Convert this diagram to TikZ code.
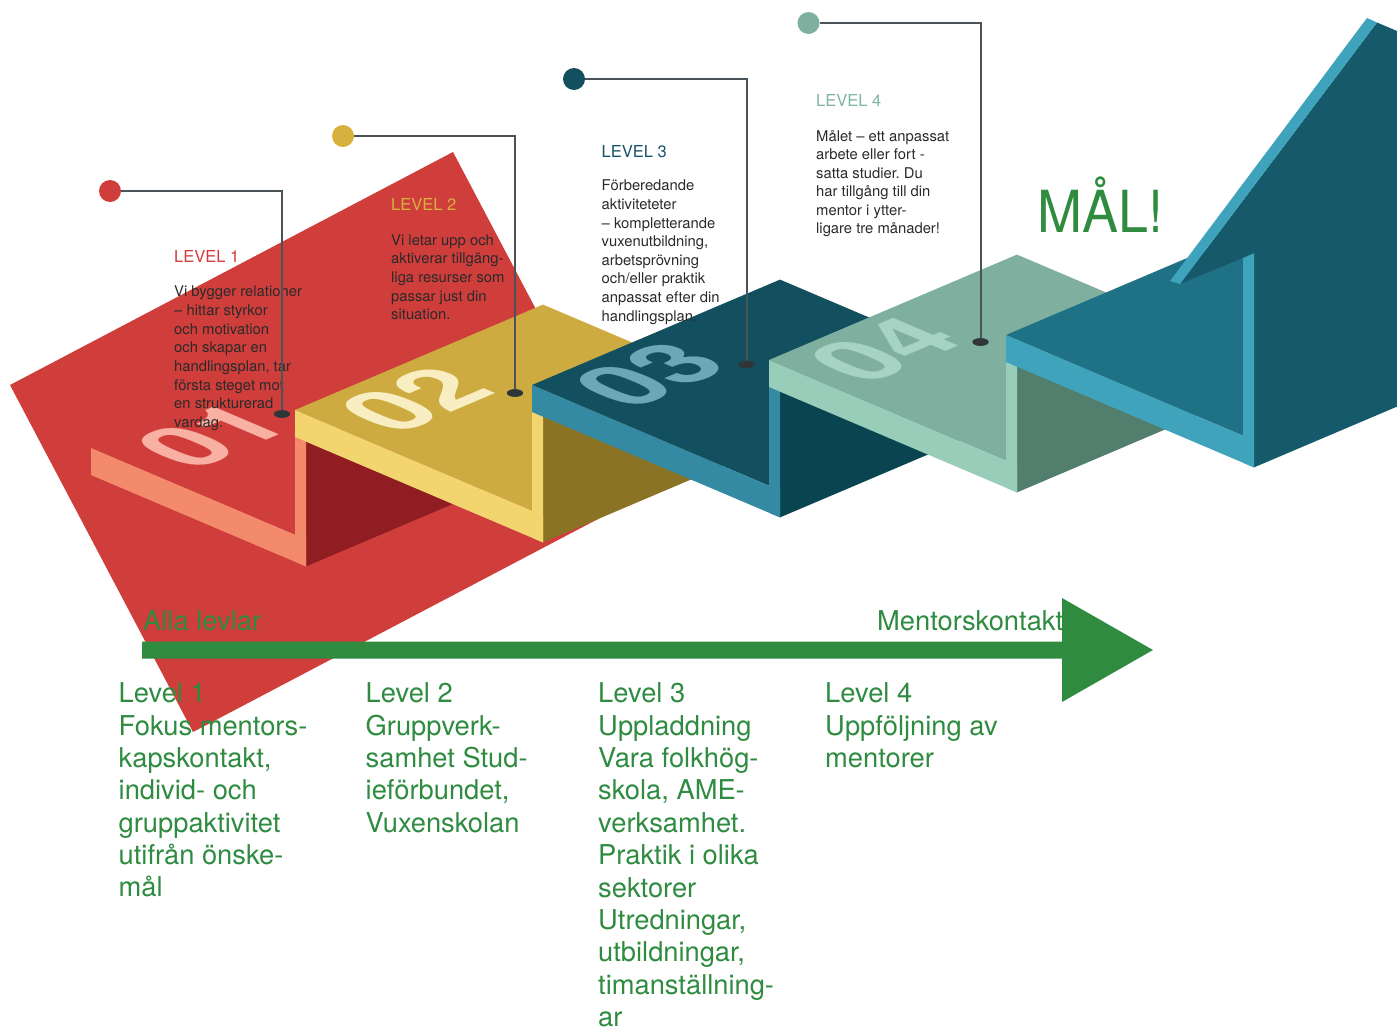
\documentclass[tikz,border=0pt]{standalone}
\usepackage{fontspec}
\setmainfont{TeX Gyre Heros}
\usetikzlibrary{shapes.geometric}
\definecolor{bgred}{HTML}{D03E3C}
\definecolor{sAstrip}{HTML}{F48A6C}
\definecolor{sAface}{HTML}{8F1D21}
\definecolor{sAdig}{HTML}{F8B0A2}
\definecolor{sBtop}{HTML}{CEAB41}
\definecolor{sBstrip}{HTML}{F2D56E}
\definecolor{sBface}{HTML}{8A7325}
\definecolor{sBdig}{HTML}{F8EEC2}
\definecolor{sCtop}{HTML}{13505F}
\definecolor{sCstrip}{HTML}{348AA3}
\definecolor{sCface}{HTML}{0B4451}
\definecolor{sCdig}{HTML}{6AA8B6}
\definecolor{sDtop}{HTML}{7FAF9E}
\definecolor{sDstrip}{HTML}{98CDB9}
\definecolor{sDface}{HTML}{527F6D}
\definecolor{sDdig}{HTML}{A6D3C3}
\definecolor{sEtop}{HTML}{1F7285}
\definecolor{sEstrip}{HTML}{3FA3BB}
\definecolor{sEface}{HTML}{15596A}
\definecolor{connc}{HTML}{4A5458}
\definecolor{pinc}{HTML}{2E3639}
\definecolor{bodytext}{HTML}{2A2A2A}
\definecolor{tgreen}{HTML}{2E8B40}
\definecolor{lvlA}{HTML}{D6393B}
\definecolor{lvlB}{HTML}{D8B03E}
\definecolor{lvlC}{HTML}{17506A}
\definecolor{lvlD}{HTML}{80B5A2}
\tikzset{
  bodytxt/.style={anchor=base west, inner sep=0pt, font=\fontsize{14.8}{18}\selectfont, text=bodytext},
  lvltxt/.style={anchor=base west, inner sep=0pt, font=\fontsize{16.5}{18}\selectfont},
  gtxt/.style={anchor=base west, inner sep=0pt, font=\fontsize{27.3}{30}\selectfont, text=tgreen},
  digitstyle/.style={inner sep=0pt, font=\fontsize{92}{96}\selectfont\bfseries, transform shape},
  conn/.style={draw=connc, line width=2pt},
  ringdot/.style={circle, minimum size=22pt, inner sep=0pt},
  pinhead/.style={ellipse, fill=pinc, minimum width=16pt, minimum height=7.5pt, inner sep=0pt},
}
\begin{document}
\frenchspacing
\begin{tikzpicture}[x=1pt,y=-1pt]
\useasboundingbox (0,0) rectangle (1397,1029);
\clip (0,0) rectangle (1397,1029);
% background red plane
\fill[bgred] (453,152) -- (10,385) -- (193,732) -- (636,499) -- cycle;
% ---- step 1
\begin{scope}[shift={(212,436)}, cm={1,0.425,-1,0.425,(0,0)}]
  \node[digitstyle, text=sAdig] (n01) at (0,0) {01};
\end{scope}
\fill[sAface] (306,441.7) -- (306,566.4) -- (554,461) -- (554,336.3) -- cycle;
\fill[sAstrip] (91,448) -- (306,539.4) -- (306,566.4) -- (91,475) -- cycle;
\fill[sAstrip] (295,437) -- (306,441.7) -- (306,566.4) -- (295,561.7) -- cycle;
% ---- step 2
\fill[sBtop] (295,410) -- (543,515.4) -- (791,410) -- (543,304.6) -- cycle;
\begin{scope}[shift={(416,400)}, cm={1,0.425,-1,0.425,(0,0)}]
  \node[digitstyle, text=sBdig] (n02) at (0,0) {02};
\end{scope}
\fill[sBface] (543,416.7) -- (543,542.4) -- (791,437) -- (791,311.3) -- cycle;
\fill[sBstrip] (295,410) -- (543,515.4) -- (543,542.4) -- (295,437) -- cycle;
\fill[sBstrip] (532,412) -- (543,416.7) -- (543,542.4) -- (532,537.7) -- cycle;
% ---- step 3
\fill[sCtop] (532,385) -- (780,490.4) -- (1028,385) -- (780,279.6) -- cycle;
\begin{scope}[shift={(650,375)}, cm={1,0.425,-1,0.425,(0,0)}]
  \node[digitstyle, text=sCdig] (n03) at (0,0) {03};
\end{scope}
\fill[sCface] (780,391.7) -- (780,517.4) -- (1028,412) -- (1028,286.3) -- cycle;
\fill[sCstrip] (532,385) -- (780,490.4) -- (780,517.4) -- (532,412) -- cycle;
\fill[sCstrip] (769,387) -- (780,391.7) -- (780,517.4) -- (769,512.7) -- cycle;
% ---- step 4
\fill[sDtop] (769,360) -- (1017,465.4) -- (1265,360) -- (1017,254.6) -- cycle;
\begin{scope}[shift={(885,350)}, cm={1,0.425,-1,0.425,(0,0)}]
  \node[digitstyle, text=sDdig] (n04) at (0,0) {04};
\end{scope}
\fill[sDface] (1017,366.7) -- (1017,492.4) -- (1265,387) -- (1265,261.3) -- cycle;
\fill[sDstrip] (769,360) -- (1017,465.4) -- (1017,492.4) -- (769,387) -- cycle;
\fill[sDstrip] (1006,362) -- (1017,366.7) -- (1017,492.4) -- (1006,487.7) -- cycle;
% ---- step 5 (goal)
\fill[sEtop] (1006,335) -- (1254,440.4) -- (1502,335) -- (1254,229.6) -- cycle;
\fill[sEstrip] (1006,335) -- (1254,440.4) -- (1254,467.4) -- (1006,362) -- cycle;
\fill[sEface] (1180,284) -- (1377,22.5) -- (1397,31) -- (1397,406.6) -- (1254,467.4) -- (1254,253.3) -- cycle;
\fill[sEstrip] (1170,281) -- (1180,284) -- (1377,22.5) -- (1367,18) -- cycle;
\fill[sEstrip] (1243,258) -- (1254,253.3) -- (1254,467.4) -- (1243,462.7) -- cycle;
% ---- texts of levels
\node[lvltxt, text=lvlA] (t1) at (174,262.3) {LEVEL 1};
\foreach \t [count=\i from 0] in {Vi bygger relationer, – hittar styrkor, och motivation, och skapar en, {handlingsplan, tar}, första steget mot, en strukturerad, vardag.}
  \node[bodytxt] (bA\i) at (174,{296.7+18.7*\i}) {\t};
\node[lvltxt, text=lvlB] (t2) at (391,210) {LEVEL 2};
\foreach \t [count=\i from 0] in {Vi letar upp och, aktiverar tillgäng-, liga resurser som, passar just din, situation.}
  \node[bodytxt] (bB\i) at (391,{245+18.7*\i}) {\t};
\node[lvltxt, text=lvlC] (t3) at (601.5,157) {LEVEL 3};
\foreach \t [count=\i from 0] in {Förberedande, aktiviteteter, – kompletterande, {vuxenutbildning,}, arbetsprövning, och/eller praktik, anpassat efter din, handlingsplan.}
  \node[bodytxt] (bC\i) at (601.5,{190.9+18.6*\i}) {\t};
\node[lvltxt, text=lvlD] (t4) at (816,106.8) {LEVEL 4};
\foreach \t [count=\i from 0] in {Målet – ett anpassat, arbete eller fort -, satta studier. Du, har tillgång till din, mentor i ytter-, ligare tre månader!}
  \node[bodytxt] (bD\i) at (816,{141.2+18.5*\i}) {\t};
\node[anchor=base west, inner sep=0pt, text=tgreen, font=\fontsize{58}{60}\selectfont] (goal) at (1037,232) {\scalebox{0.93}[1]{MÅL!}};
% ---- connectors
\node[ringdot, fill=bgred] (c1) at (110,191) {};
\node[pinhead] (e1) at (282,414) {};
\node[ringdot, fill=lvlB] (c2) at (343,136) {};
\node[pinhead] (e2) at (515,393) {};
\node[ringdot, fill=sCtop] (c3) at (574,79) {};
\node[pinhead] (e3) at (746.5,364.5) {};
\node[ringdot, fill=sDtop] (c4) at (808.5,23) {};
\node[pinhead] (e4) at (980.5,342) {};
\draw[conn] (c1) -| (e1.center);
\draw[conn] (c2) -| (e2.center);
\draw[conn] (c3) -| (e3.center);
\draw[conn] (c4) -| (e4.center);
\node[pinhead] at (e1) {};
\node[pinhead] at (e2) {};
\node[pinhead] at (e3) {};
\node[pinhead] at (e4) {};
% ---- bottom timeline
\node[gtxt] (alla) at (143,630.7) {Alla levlar};
\node[gtxt] (ment) at (877,630.7) {Mentorskontakt};
\coordinate (arA) at (142,650);
\coordinate (arB) at (1153,650);
\fill[tgreen] (arA) ++(0,-8.5) -- (1062,641.5) -- (1062,598) -- (arB) -- (1062,702) -- (1062,658.5) -- (142,658.5) -- cycle;
\foreach \t [count=\i from 0] in {Level 1, Fokus mentors-, {kapskontakt,}, individ- och, gruppaktivitet, utifrån önske-, mål}
  \node[gtxt] (gA\i) at (118.5,{702.7+32.35*\i}) {\t};
\foreach \t [count=\i from 0] in {Level 2, Gruppverk-, samhet Stud-, {ieförbundet,}, Vuxenskolan}
  \node[gtxt] (gB\i) at (365.5,{702.7+32.35*\i}) {\t};
\foreach \t [count=\i from 0] in {Level 3, Uppladdning, Vara folkhög-, {skola, AME-}, verksamhet., Praktik i olika, sektorer, {Utredningar,}, {utbildningar,}, timanställning-, ar}
  \node[gtxt] (gC\i) at (598,{702.7+32.4*\i}) {\t};
\foreach \t [count=\i from 0] in {Level 4, Uppföljning av, mentorer}
  \node[gtxt] (gD\i) at (825,{702.7+32.35*\i}) {\t};
\end{tikzpicture}
\end{document}
